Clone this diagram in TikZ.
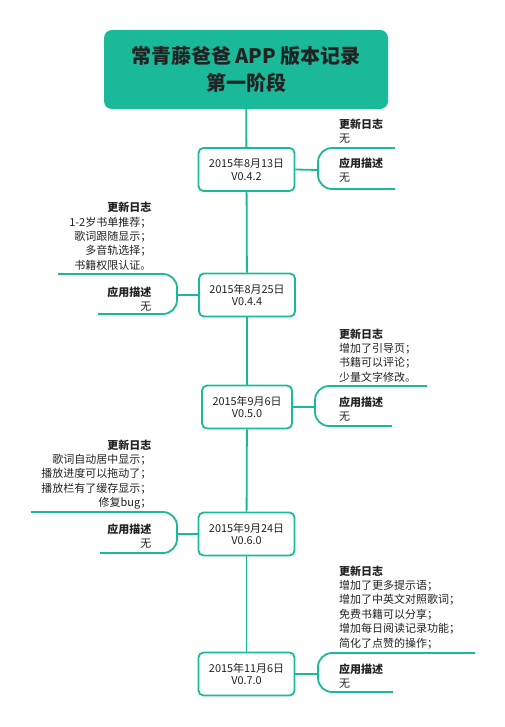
\documentclass[tikz,border=0pt]{standalone}
\usepackage{fontspec}
\setmainfont{Noto Sans CJK SC}
\usepackage{tikz}
\usepackage{color}
\definecolor{xmTeal}{RGB}{26, 185, 153}
\definecolor{xmText}{RGB}{34, 34, 34}

\begin{document}
\begin{tikzpicture} [
    x=1pt, y=-1pt,
    titlebox/.style = { rectangle, fill=xmTeal, rounded corners=8pt,
                        minimum width=284pt, minimum height=79pt,
                        align=center, text=xmText,
                        font=\bfseries\fontsize{20}{27}\selectfont},
    version/.style  = { rectangle, draw=xmTeal, line width=1.8pt, fill=white,
                        rounded corners=5pt, align=center, text=xmText,
                        minimum height=43pt, inner xsep=10.5pt,
                        font=\fontsize{10.9}{12.5}\selectfont},
    logtext/.style  = { inner sep=0pt, text=xmText,
                        font=\fontsize{11}{14.4}\selectfont},
    line/.style     = { draw=xmTeal, line width=1.8pt},
    bracket/.style  = { line, rounded corners=14pt},
  ]
\useasboundingbox (0,0) rectangle (505,727);

%Titel
  \node [titlebox] (title) at (246,69.5) {常青藤爸爸 APP 版本记录\\第一阶段};

%Versionen (Knoten auf der Mittelachse)
  \node [version] (v1) at (246.5,169.5) {2015年8月13日\\V0.4.2};
  \node [version] (v2) at (247,295)     {2015年8月25日\\V0.4.4};
  \node [version] (v3) at (247,407)     {2015年9月6日\\V0.5.0};
  \node [version] (v4) at (246.5,534)   {2015年9月24日\\V0.6.0};
  \node [version] (v5) at (246.5,674)   {2015年11月6日\\V0.7.0};

%Texte rechts: anchor=north west, links: anchor=north east
  \node [logtext, anchor=north west, align=left] (v1log) at (339,118.5)
        {\textbf{更新日志}\\无};
  \node [logtext, anchor=north west, align=left] (v1desc) at (339,157.5)
        {\textbf{应用描述}\\无};

  \node [logtext, anchor=north east, align=right] (v2log) at (151.5,202)
        {\textbf{更新日志}\\1-2岁书单推荐；\\歌词跟随显示；\\多音轨选择；\\书籍权限认证。};
  \node [logtext, anchor=north east, align=right] (v2desc) at (151.5,286.5)
        {\textbf{应用描述}\\无};

  \node [logtext, anchor=north west, align=left] (v3log) at (339,328.5)
        {\textbf{更新日志}\\增加了引导页；\\书籍可以评论；\\少量文字修改。};
  \node [logtext, anchor=north west, align=left] (v3desc) at (339,396.5)
        {\textbf{应用描述}\\无};

  \node [logtext, anchor=north east, align=right] (v4log) at (151.5,439.5)
        {\textbf{更新日志}\\歌词自动居中显示；\\播放进度可以拖动了；\\播放栏有了缓存显示；\\修复bug；};
  \node [logtext, anchor=north east, align=right] (v4desc) at (151.5,523.5)
        {\textbf{应用描述}\\无};

  \node [logtext, anchor=north west, align=left] (v5log) at (339,565.5)
        {\textbf{更新日志}\\增加了更多提示语；\\增加了中英文对照歌词；\\免费书籍可以分享；\\增加每日阅读记录功能；\\简化了点赞的操作；};
  \node [logtext, anchor=north west, align=left] (v5desc) at (339,663.5)
        {\textbf{应用描述}\\无};

%Klammern (Punkt in der Mitte der Rundung)
  \coordinate (v1br) at (318,170);
  \coordinate (v2br) at (177,295);
  \coordinate (v3br) at (315,407);
  \coordinate (v4br) at (177,534);
  \coordinate (v5br) at (318,674);

  \begin{scope} [every path/.style={bracket}]
   \path (395,148) -- (318,148) -- (318,189) -- (395,189);
   \path (58,274)  -- (177,274) -- (177,314) -- (98,314);
   \path (427,386) -- (315,386) -- (315,426) -- (392,426);
   \path (31,512)  -- (177,512) -- (177,553) -- (100,553);
   \path (475,653) -- (318,653) -- (318,692) -- (393,692);
  \end{scope}

%Achse und Verbindungen
  \begin{scope} [every path/.style={line}]
   \path (title) -- (v1);
   \path (v1) -- (v2);
   \path (v2) -- (v3);
   \path (v3) -- (v4);
   \path (v4) -- (v5);
   \path (v1.east) -- (v1br);
   \path (v2.west) -- (v2br);
   \path (v3.east) -- (v3br);
   \path (v4.west) -- (v4br);
   \path (v5.east) -- (v5br);
  \end{scope}
\end{tikzpicture}
\end{document}
